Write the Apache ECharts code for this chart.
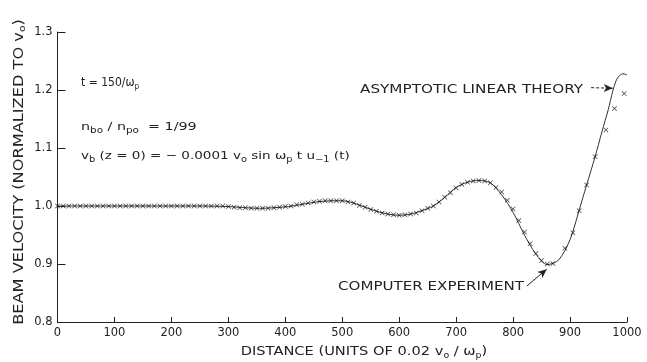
<!DOCTYPE html>
<html>
<head>
<meta charset="utf-8">
<script src="https://cdn.jsdelivr.net/npm/echarts@6/dist/echarts.min.js"></script>
<style>html,body{margin:0;padding:0;background:#fff}#c{width:647px;height:362px}</style>
</head>
<body>
<div id="c"></div>
<script>
// Asymptotic linear theory (solid curve)
const xTheory = [0, 50, 100, 150, 200, 250, 300, 330, 355, 380, 405, 430, 455, 480, 500, 520, 540, 560, 580, 600, 620, 640, 660, 680, 700, 720, 740, 760, 780, 800, 820, 840, 860, 880, 900, 916, 929, 944, 956, 967, 975, 980, 985, 993, 1000];
const yTheory = [1.000, 1.000, 1.000, 1.000, 1.000, 1.000, 0.999, 0.997, 0.996, 0.997, 0.999, 1.003, 1.007, 1.009, 1.009, 1.005, 0.998, 0.991, 0.986, 0.984, 0.986, 0.992, 1.000, 1.015, 1.032, 1.041, 1.044, 1.040, 1.019, 0.989, 0.950, 0.917, 0.899, 0.907, 0.942, 0.993, 1.036, 1.085, 1.128, 1.166, 1.198, 1.214, 1.223, 1.228, 1.226];

// Computer experiment (x markers)
const xExp = [0, 10, 20, 30, 40, 50, 60, 70, 80, 90, 100, 110, 120, 130, 140, 150, 160, 170, 180, 190, 200, 210, 220, 230, 240, 250, 260, 270, 280, 290,
  300, 310, 320, 330, 340, 350, 360, 370, 380, 390, 400, 410, 420, 430, 440, 450, 460, 470, 480, 490,
  500, 510, 520, 530, 540, 550, 560, 570, 580, 590, 600, 610, 620, 630, 640, 650, 660, 670, 680, 690,
  700, 710, 720, 730, 740, 750, 760, 770, 780, 790, 800, 810, 820, 830, 840, 850, 860, 870,
  891, 905, 916, 929, 944, 963, 978, 995];
const yExp = [1.000, 1.000, 1.000, 1.000, 1.000, 1.000, 1.000, 1.000, 1.000, 1.000, 1.000, 1.000, 1.000, 1.000, 1.000, 1.000, 1.000, 1.000, 1.000, 1.000, 1.000, 1.000, 1.000, 1.000, 1.000, 1.000, 1.000, 1.000, 1.000, 1.000,
  0.999, 0.998, 0.997, 0.997, 0.996, 0.996, 0.996, 0.996, 0.997, 0.998,
  0.999, 1.000, 1.002, 1.003, 1.005, 1.007, 1.008, 1.009, 1.009, 1.009,
  1.009, 1.007, 1.005, 1.001, 0.998, 0.994, 0.991, 0.988, 0.986, 0.985,
  0.984, 0.985, 0.986, 0.988, 0.992, 0.996, 1.000, 1.007, 1.015, 1.023,
  1.031, 1.037, 1.041, 1.043, 1.044, 1.043, 1.040, 1.032, 1.024, 1.010,
  0.995, 0.975, 0.955, 0.935, 0.918, 0.906, 0.900, 0.901,
  0.927, 0.954, 0.992, 1.036, 1.085, 1.131, 1.168, 1.194];

// Axis ticks
const xTicks = [0, 100, 200, 300, 400, 500, 600, 700, 800, 900, 1000];
const yTicks = [0.8, 0.9, 1.0, 1.1, 1.2, 1.3];

const FONT = 'DejaVu Sans';
const INK = '#222';
const sub = { fontSize: 8, lineHeight: 8, verticalAlign: 'bottom', fontFamily: FONT, color: INK };
const subBig = { fontSize: 9, lineHeight: 9, verticalAlign: 'bottom', fontFamily: FONT, color: INK };

const chart = echarts.init(document.getElementById('c'), null, { renderer: 'canvas' });
const crossPath = 'path://M0,1L1,0L5,4L9,0L10,1L6,5L10,9L9,10L5,6L1,10L0,9L4,5Z';

function label(x, y, text, size, sx) {
  return {
    type: 'text', x: x, y: y, scaleX: sx, z: 10,
    style: { text: text, font: size + 'px "' + FONT + '"', fontFamily: FONT, fontSize: size, lineHeight: size + 4, fill: INK, rich: { s: sub },
             textVerticalAlign: 'middle' }
  };
}

chart.setOption({
  animation: false,
  backgroundColor: '#fff',
  grid: { left: 57.5, right: 20, top: 32, bottom: 40 },
  xAxis: {
    type: 'value',
    min: xTicks[0], max: xTicks[xTicks.length - 1], interval: xTicks[1] - xTicks[0],
    axisLine: { lineStyle: { color: INK, width: 1.2 } },
    axisTick: { inside: true, length: 5, lineStyle: { color: INK } },
    splitLine: { show: false },
    axisLabel: { color: INK, fontFamily: FONT, fontSize: 11.5, margin: 5, formatter: v => String(v) }
  },
  yAxis: {
    type: 'value',
    min: yTicks[0], max: yTicks[yTicks.length - 1], interval: 0.1,
    axisLine: { show: true, lineStyle: { color: INK, width: 1 } },
    axisTick: { show: true, inside: true, length: 8, lineStyle: { color: INK } },
    splitLine: { show: false },
    axisLabel: { color: INK, fontFamily: FONT, fontSize: 11.5, margin: 5, formatter: v => v.toFixed(1) }
  },
  series: [
    {
      name: 'Asymptotic linear theory',
      type: 'line',
      data: xTheory.map((x, i) => [x, yTheory[i]]),
      smooth: 0.3,
      showSymbol: false,
      lineStyle: { color: '#333', width: 1 },
      z: 2,
      markLine: {
        silent: true,
        symbol: ['none', 'arrow'],
        symbolSize: [6, 9],
        label: { show: false },
        data: [
          [{ coord: [937, 1.204], lineStyle: { type: [3, 2], color: INK, width: 1 } }, { coord: [975, 1.203] }],
          [{ coord: [824, 0.862], lineStyle: { type: 'solid', color: INK, width: 1 } }, { coord: [859, 0.891] }]
        ]
      }
    },
    {
      name: 'Computer experiment',
      type: 'scatter',
      data: xExp.map((x, i) => [x, yExp[i]]),
      symbol: crossPath,
      symbolSize: 5,
      itemStyle: { color: '#111' },
      z: 3
    }
  ],
  graphic: [
    label(81, 83, 't = 150/ω{s|p}', 12, 0.9),
    label(81, 127, 'n{s|bo} / n{s|po}  = 1/99', 11, 1.3),
    label(81, 156, 'v{s|b} (z = 0) = − 0.0001 v{s|o} sin ω{s|p} t u{s|−1} (t)', 11, 1.23),
    label(360, 90, 'ASYMPTOTIC LINEAR THEORY', 13, 1.17),
    label(338, 287, 'COMPUTER EXPERIMENT', 13, 1.16),
    {
      type: 'text', x: 364, y: 352, scaleX: 1.17, z: 10,
      style: { text: 'DISTANCE (UNITS OF 0.02 v{s|o} / ω{s|p})', fontFamily: FONT, fontSize: 12.5, lineHeight: 16, fill: INK,
               rich: { s: sub }, textAlign: 'center', textVerticalAlign: 'middle' }
    },
    {
      type: 'text', x: 19, y: 172, rotation: Math.PI / 2, scaleX: 1.2, z: 10,
      style: { text: 'BEAM VELOCITY (NORMALIZED TO v{s|o})', fontFamily: FONT, fontSize: 13.5, lineHeight: 17, fill: INK,
               rich: { s: subBig }, textAlign: 'center', textVerticalAlign: 'middle' }
    }
  ]
});
</script>
</body>
</html>
